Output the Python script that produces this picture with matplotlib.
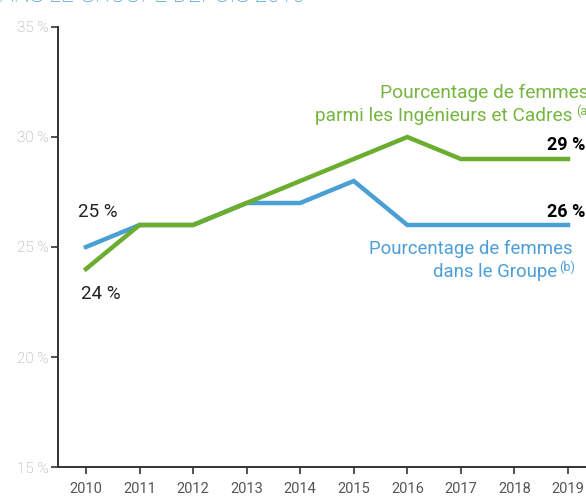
import matplotlib.pyplot as plt

years = [2010, 2011, 2012, 2013, 2014, 2015, 2016, 2017, 2018, 2019]
cadres = [24, 26, 26, 27, 28, 29, 30, 29, 29, 29]   # ingenieurs et cadres (a)
groupe = [25, 26, 26, 27, 27, 28, 26, 26, 26, 26]   # ensemble du groupe (b)
yticks = [15, 20, 25, 30, 35]

green = '#6bad2f'
blue = '#4a9fd4'
green_txt = '#76b540'
blue_txt = '#4d9fd8'

plt.rcParams['font.family'] = ['Roboto', 'DejaVu Sans']

fig = plt.figure(figsize=(5.86, 4.98), dpi=100)
ax = fig.add_axes([58 / 586, 1 - 467 / 498, 1 - 58 / 586, 440 / 498])

ax.plot(years, groupe, color=blue, lw=3.2, solid_joinstyle='miter', zorder=2)
ax.plot(years, cadres, color=green, lw=3.2, solid_joinstyle='miter', zorder=3)

ax.set_xlim(2009.478, 2019.336)
ax.set_ylim(15, 35)
ax.set_xticks(years)
ax.set_xticklabels([str(y) for y in years], fontsize=10.5, color='#555555')
ax.set_yticks(yticks)
ax.set_yticklabels(['%d %%' % v for v in yticks], fontsize=11, color='#a0a0a0', fontweight='light')
ax.tick_params(axis='both', direction='out', length=5, width=1.2, color='#333333')
ax.tick_params(axis='x', pad=6)
ax.tick_params(axis='y', pad=2)

for s in ['top', 'right']:
    ax.spines[s].set_visible(False)
for s in ['left', 'bottom']:
    ax.spines[s].set_color('#333333')
    ax.spines[s].set_linewidth(1.4)

# end labels
ax.text(2019.33, cadres[-1] + 0.64, '%d %%' % cadres[-1], ha='right', va='center',
        fontsize=13, fontweight='bold', color='black')
ax.text(2019.33, groupe[-1] + 0.6, '%d %%' % groupe[-1], ha='right', va='center',
        fontsize=13, fontweight='bold', color='black')
ax.text(2010.22, groupe[0] + 1.6, '%d %%' % groupe[0], ha='center', va='center',
        fontsize=13.5, color='#222222')
ax.text(2010.28, 22.86, '%d %%' % cadres[0], ha='center', va='center',
        fontsize=13.5, color='#222222')

# series labels
ax.text(2015.49, 32.0, 'Pourcentage de femmes', ha='left', va='center',
        fontsize=13.8, color=green_txt)
t_a = ax.text(2014.27, 30.95, 'parmi les Ingénieurs et Cadres', ha='left', va='center',
              fontsize=13.8, color=green_txt)
ax.annotate('(a)', xy=(1, 1), xycoords=t_a, xytext=(3, 2), textcoords='offset points',
            ha='left', va='top', fontsize=9, color=green_txt)

ax.text(2019.09, 24.9, 'Pourcentage de femmes', ha='right', va='center',
        fontsize=13.4, color=blue_txt)
t_b = ax.text(2018.79, 23.85, 'dans le Groupe', ha='right', va='center',
              fontsize=13.4, color=blue_txt)
ax.annotate('(b)', xy=(1, 1), xycoords=t_b, xytext=(2, 2), textcoords='offset points',
            ha='left', va='top', fontsize=9, color=blue_txt)

# title cut at the top of the picture
fig.text(305 / 586, 1 - 2 / 498, 'DANS LE GROUPE DEPUIS 2010', ha='right', va='baseline',
         fontsize=16.5, fontweight='light', color=blue)

fig.savefig('out.png', dpi=100)
